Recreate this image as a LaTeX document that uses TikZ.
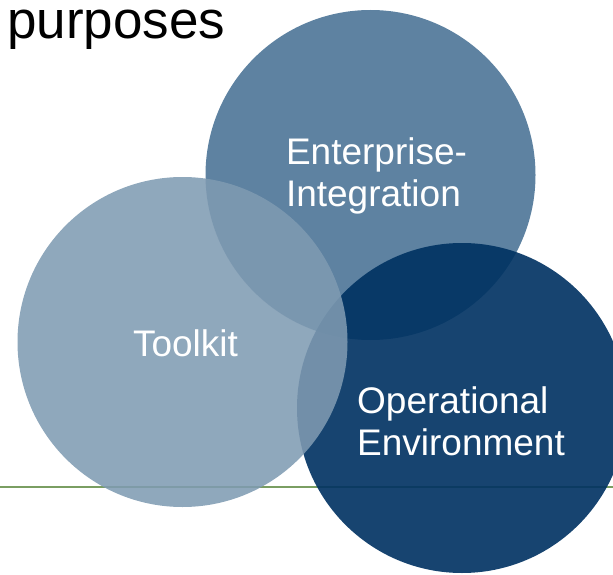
\documentclass[tikz,border=0pt]{standalone}
\usepackage{fontspec}
\setmainfont{Liberation Sans}
\usetikzlibrary{positioning}
\definecolor{entBlue}{RGB}{94,130,161}
\definecolor{opNavy}{RGB}{0,50,98}
\definecolor{toolBlue}{RGB}{127,155,178}
\definecolor{ruleGreen}{RGB}{122,158,98}

\begin{document}
\begin{tikzpicture}
            [x=1pt, y=-1pt,
            venn/.style={circle, minimum size=330pt, inner sep=0pt},
            vlabel/.style={text=white, align=left, inner sep=0pt, font=\fontsize{37}{42}\selectfont}]
            \useasboundingbox (0,0) rectangle (613,575);
            % title fragment
            \node(title) [anchor=base west, inner sep=0pt, font=\fontsize{53}{60}\selectfont] at (7,39) {purposes};
            % circles, back to front
            \node(ent) [venn, fill=entBlue] at (370.5,175) {};
            \coordinate (ruleL) at (0,487);
            \coordinate (ruleR) at (613,487);
            \draw[ruleGreen, line width=2.6pt] (ruleL) -- (ruleR);
            \node(op) [venn, fill=opNavy, fill opacity=0.91] at (462,408) {};
            \node(tool) [venn, fill=toolBlue, fill opacity=0.875] at (182.5,342) {};
            % labels
            \node(entTxt) [vlabel] at ([xshift=6pt, yshift=-1pt]ent.center) {Enterprise-\\Integration};
            \node(opTxt) [vlabel] at ([xshift=-1pt, yshift=-13pt]op.center) {Operational\\Environment};
            \node(toolTxt) [vlabel] at ([xshift=3pt, yshift=-1pt]tool.center) {Toolkit};
        \end{tikzpicture}
\end{document}
